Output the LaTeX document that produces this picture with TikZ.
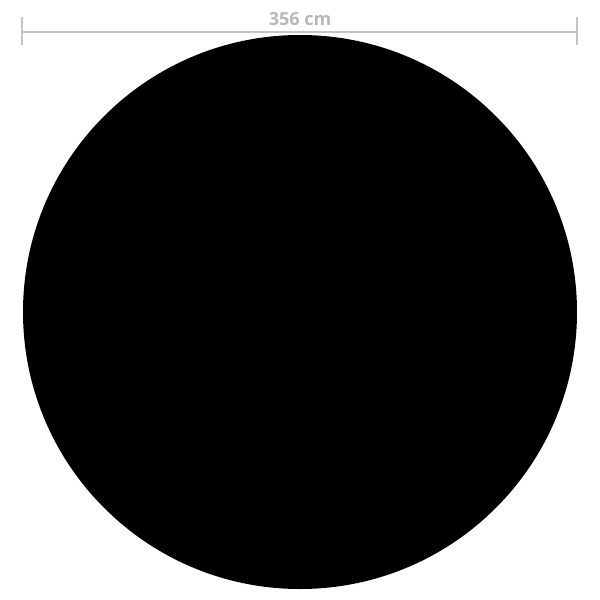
\documentclass[tikz,border=0pt]{standalone}
\usepackage{fontspec}
\setmainfont{Open Sans}
\definecolor{dimgray}{HTML}{C4C4C4}
\definecolor{dimtext}{HTML}{B8B8B8}
\begin{document}
\begin{tikzpicture}[x=1pt,y=-1pt,
  dimline/.style={draw=dimgray,line width=1.6pt},
  dimlabel/.style={text=dimtext,font=\fontsize{18}{20}\selectfont\bfseries,inner sep=0pt,anchor=base}]
\useasboundingbox[fill=white] (0,0) rectangle (600,600);
\coordinate (L) at (22,32);
\coordinate (R) at (577,32);
\coordinate (Lt) at (22,17);
\coordinate (Lb) at (22,45);
\coordinate (Rt) at (577,17);
\coordinate (Rb) at (577,45);
\draw[dimline] (L) -- (R);
\draw[dimline] (Lt) -- (Lb);
\draw[dimline] (Rt) -- (Rb);
\node[dimlabel] (lbl) at (300,25) {356 cm};
\node[circle,fill=black,minimum size=554pt,inner sep=0pt] (disc) at (300,312) {};
\end{tikzpicture}
\end{document}
